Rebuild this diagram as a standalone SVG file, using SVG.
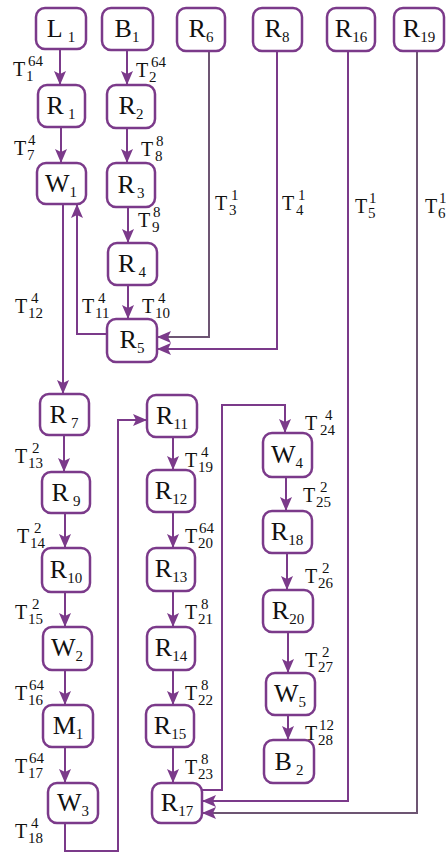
<svg xmlns="http://www.w3.org/2000/svg" width="446" height="856" viewBox="0 0 446 856">
<style>
.box{fill:#fff;stroke:#7b3a8a;stroke-width:2.5}
.c{fill:none;stroke:#7b3a8a;stroke-width:2}
.g{stroke:#6d5573}
.n{font-family:"Liberation Serif","Times New Roman",Times,serif;font-size:26px;fill:#111;text-anchor:middle}
.s{font-size:15px}
.t{font-family:"Liberation Serif","Times New Roman",Times,serif;font-size:20px;fill:#111}
.d{font-size:15px}
</style>
<defs>
<marker id="a" markerUnits="userSpaceOnUse" markerWidth="15" markerHeight="12" refX="14" refY="6" orient="auto">
<path d="M0,0 L14,6 L0,12 L3,6 z" fill="#7b3a8a"/>
</marker>
</defs>
<rect width="446" height="856" fill="#fff"/>
<g id="connectors">
<path class="c" d="M60,49 V85" marker-end="url(#a)"/>
<path class="c" d="M127,50 V85" marker-end="url(#a)"/>
<path class="c" d="M61,127 V163" marker-end="url(#a)"/>
<path class="c" d="M127,128 V163" marker-end="url(#a)"/>
<path class="c" d="M128,207 V243" marker-end="url(#a)"/>
<path class="c" d="M128,285 V319" marker-end="url(#a)"/>
<path class="c" d="M107,334 H77 V204" marker-end="url(#a)"/>
<path class="c" d="M63,204 V394" marker-end="url(#a)"/>
<path class="c g" d="M209,51 V337 H157" marker-end="url(#a)"/>
<path class="c" d="M277,51 V349 H157" marker-end="url(#a)"/>
<path class="c" d="M64,435 V472" marker-end="url(#a)"/>
<path class="c" d="M65,513 V548" marker-end="url(#a)"/>
<path class="c" d="M65,592 V627" marker-end="url(#a)"/>
<path class="c" d="M65,670 V705" marker-end="url(#a)"/>
<path class="c" d="M65,747 V783" marker-end="url(#a)"/>
<path class="c" d="M65,823 V851 H118 V420 H147" marker-end="url(#a)"/>
<path class="c" d="M173,437 V470" marker-end="url(#a)"/>
<path class="c" d="M173,512 V548" marker-end="url(#a)"/>
<path class="c" d="M173,591 V627" marker-end="url(#a)"/>
<path class="c" d="M173,670 V705" marker-end="url(#a)"/>
<path class="c" d="M173,747 V783" marker-end="url(#a)"/>
<path class="c" d="M202,790 H222 V405 H285 V433" marker-end="url(#a)"/>
<path class="c" d="M286,477 V511" marker-end="url(#a)"/>
<path class="c" d="M287,553 V590" marker-end="url(#a)"/>
<path class="c" d="M288,632 V673" marker-end="url(#a)"/>
<path class="c" d="M288,715 V740" marker-end="url(#a)"/>
<path class="c" d="M348,51 V801 H202" marker-end="url(#a)"/>
<path class="c g" d="M417,51 V813 H202" marker-end="url(#a)"/>
</g>
<g id="L1"><rect class="box" x="36" y="8" width="50" height="41" rx="9"/><text class="n" x="61" y="37">L<tspan class="s" dx="5" dy="5">1</tspan></text></g>
<g id="B1"><rect class="box" x="102" y="8" width="51" height="42" rx="9"/><text class="n" x="127" y="37">B<tspan class="s" dy="5">1</tspan></text></g>
<g id="R6"><rect class="box" x="177" y="8" width="48" height="43" rx="9"/><text class="n" x="201" y="37">R<tspan class="s" dy="5">6</tspan></text></g>
<g id="R8"><rect class="box" x="253" y="8" width="49" height="43" rx="9"/><text class="n" x="277" y="37">R<tspan class="s" dy="5">8</tspan></text></g>
<g id="R16"><rect class="box" x="327" y="8" width="48" height="43" rx="9"/><text class="n" x="351" y="37">R<tspan class="s" dy="5">16</tspan></text></g>
<g id="R19"><rect class="box" x="394" y="8" width="50" height="43" rx="9"/><text class="n" x="419" y="37">R<tspan class="s" dy="5">19</tspan></text></g>
<g id="R1"><rect class="box" x="38" y="85" width="47" height="42" rx="9"/><text class="n" x="61" y="114">R<tspan class="s" dx="4" dy="5">1</tspan></text></g>
<g id="R2"><rect class="box" x="107" y="85" width="48" height="43" rx="9"/><text class="n" x="131" y="114">R<tspan class="s" dy="5">2</tspan></text></g>
<g id="W1"><rect class="box" x="37" y="163" width="49" height="41" rx="9"/><text class="n" x="61" y="192">W<tspan class="s" dy="5">1</tspan></text></g>
<g id="R3"><rect class="box" x="107" y="163" width="48" height="44" rx="9"/><text class="n" x="131" y="193">R<tspan class="s" dx="2" dy="5">3</tspan></text></g>
<g id="R4"><rect class="box" x="108" y="243" width="49" height="42" rx="9"/><text class="n" x="132" y="272">R<tspan class="s" dx="3" dy="5">4</tspan></text></g>
<g id="R5"><rect class="box" x="107" y="319" width="50" height="43" rx="9"/><text class="n" x="132" y="348">R<tspan class="s" dy="5">5</tspan></text></g>
<g id="R7"><rect class="box" x="40" y="394" width="49" height="41" rx="9"/><text class="n" x="64" y="423">R<tspan class="s" dx="4" dy="5">7</tspan></text></g>
<g id="R9"><rect class="box" x="42" y="472" width="48" height="41" rx="9"/><text class="n" x="66" y="501">R<tspan class="s" dx="4" dy="5">9</tspan></text></g>
<g id="R10"><rect class="box" x="42" y="548" width="48" height="44" rx="9"/><text class="n" x="66" y="578">R<tspan class="s" dy="5">10</tspan></text></g>
<g id="W2"><rect class="box" x="43" y="627" width="49" height="43" rx="9"/><text class="n" x="67" y="656">W<tspan class="s" dy="5">2</tspan></text></g>
<g id="M1"><rect class="box" x="43" y="705" width="50" height="42" rx="9"/><text class="n" x="68" y="734">M<tspan class="s" dy="5">1</tspan></text></g>
<g id="W3"><rect class="box" x="48" y="783" width="50" height="40" rx="9"/><text class="n" x="73" y="811">W<tspan class="s" dy="5">3</tspan></text></g>
<g id="R11"><rect class="box" x="147" y="395" width="50" height="42" rx="9"/><text class="n" x="172" y="424">R<tspan class="s" dy="5">11</tspan></text></g>
<g id="R12"><rect class="box" x="147" y="470" width="48" height="42" rx="9"/><text class="n" x="171" y="499">R<tspan class="s" dy="5">12</tspan></text></g>
<g id="R13"><rect class="box" x="147" y="548" width="48" height="43" rx="9"/><text class="n" x="171" y="577">R<tspan class="s" dy="5">13</tspan></text></g>
<g id="R14"><rect class="box" x="147" y="627" width="48" height="43" rx="9"/><text class="n" x="171" y="656">R<tspan class="s" dy="5">14</tspan></text></g>
<g id="R15"><rect class="box" x="146" y="705" width="48" height="42" rx="9"/><text class="n" x="170" y="734">R<tspan class="s" dy="5">15</tspan></text></g>
<g id="R17"><rect class="box" x="152" y="783" width="50" height="40" rx="9"/><text class="n" x="177" y="811">R<tspan class="s" dy="5">17</tspan></text></g>
<g id="W4"><rect class="box" x="263" y="433" width="49" height="44" rx="9"/><text class="n" x="287" y="463">W<tspan class="s" dy="5">4</tspan></text></g>
<g id="R18"><rect class="box" x="263" y="511" width="49" height="42" rx="9"/><text class="n" x="287" y="540">R<tspan class="s" dy="5">18</tspan></text></g>
<g id="R20"><rect class="box" x="263" y="590" width="50" height="42" rx="9"/><text class="n" x="288" y="619">R<tspan class="s" dy="5">20</tspan></text></g>
<g id="W5"><rect class="box" x="266" y="673" width="49" height="42" rx="9"/><text class="n" x="290" y="702">W<tspan class="s" dy="5">5</tspan></text></g>
<g id="B2"><rect class="box" x="264" y="740" width="50" height="43" rx="9"/><text class="n" x="289" y="770">B<tspan class="s" dx="4" dy="5">2</tspan></text></g>
<g id="labels">
<text class="t" x="13" y="76">T<tspan class="d" x="28" dy="-10">64</tspan><tspan class="d" x="26" dy="15">1</tspan></text>
<text class="t" x="136" y="77">T<tspan class="d" x="151" dy="-10">64</tspan><tspan class="d" x="149" dy="15">2</tspan></text>
<text class="t" x="14" y="155">T<tspan class="d" x="28" dy="-10">4</tspan><tspan class="d" x="27" dy="15">7</tspan></text>
<text class="t" x="141" y="156">T<tspan class="d" x="156" dy="-10">8</tspan><tspan class="d" x="155" dy="15">8</tspan></text>
<text class="t" x="138" y="227">T<tspan class="d" x="153" dy="-10">8</tspan><tspan class="d" x="152" dy="15">9</tspan></text>
<text class="t" x="215" y="210">T<tspan class="d" x="231" dy="-10">1</tspan><tspan class="d" x="229" dy="15">3</tspan></text>
<text class="t" x="282" y="210">T<tspan class="d" x="298" dy="-10">1</tspan><tspan class="d" x="296" dy="15">4</tspan></text>
<text class="t" x="355" y="213">T<tspan class="d" x="369" dy="-10">1</tspan><tspan class="d" x="368" dy="15">5</tspan></text>
<text class="t" x="425" y="213">T<tspan class="d" x="439" dy="-10">1</tspan><tspan class="d" x="438" dy="15">6</tspan></text>
<text class="t" x="15" y="313">T<tspan class="d" x="31" dy="-10">4</tspan><tspan class="d" x="28" dy="15">12</tspan></text>
<text class="t" x="82" y="313">T<tspan class="d" x="98" dy="-10">4</tspan><tspan class="d" x="95" dy="15">11</tspan></text>
<text class="t" x="142" y="313">T<tspan class="d" x="158" dy="-10">4</tspan><tspan class="d" x="155" dy="15">10</tspan></text>
<text class="t" x="15" y="463">T<tspan class="d" x="32" dy="-10">2</tspan><tspan class="d" x="28" dy="15">13</tspan></text>
<text class="t" x="17" y="543">T<tspan class="d" x="34" dy="-10">2</tspan><tspan class="d" x="30" dy="15">14</tspan></text>
<text class="t" x="15" y="619">T<tspan class="d" x="32" dy="-10">2</tspan><tspan class="d" x="28" dy="15">15</tspan></text>
<text class="t" x="15" y="700">T<tspan class="d" x="29" dy="-10">64</tspan><tspan class="d" x="28" dy="15">16</tspan></text>
<text class="t" x="15" y="773">T<tspan class="d" x="29" dy="-10">64</tspan><tspan class="d" x="28" dy="15">17</tspan></text>
<text class="t" x="15" y="838">T<tspan class="d" x="31" dy="-10">4</tspan><tspan class="d" x="28" dy="15">18</tspan></text>
<text class="t" x="185" y="467">T<tspan class="d" x="201" dy="-10">4</tspan><tspan class="d" x="198" dy="15">19</tspan></text>
<text class="t" x="185" y="543">T<tspan class="d" x="199" dy="-10">64</tspan><tspan class="d" x="198" dy="15">20</tspan></text>
<text class="t" x="185" y="619">T<tspan class="d" x="201" dy="-10">8</tspan><tspan class="d" x="198" dy="15">21</tspan></text>
<text class="t" x="185" y="700">T<tspan class="d" x="201" dy="-10">8</tspan><tspan class="d" x="198" dy="15">22</tspan></text>
<text class="t" x="185" y="774">T<tspan class="d" x="201" dy="-10">8</tspan><tspan class="d" x="198" dy="15">23</tspan></text>
<text class="t" x="305" y="430">T<tspan class="d" x="325" dy="-10">4</tspan><tspan class="d" x="320" dy="15">24</tspan></text>
<text class="t" x="303" y="502">T<tspan class="d" x="320" dy="-10">2</tspan><tspan class="d" x="316" dy="15">25</tspan></text>
<text class="t" x="305" y="583">T<tspan class="d" x="322" dy="-10">2</tspan><tspan class="d" x="318" dy="15">26</tspan></text>
<text class="t" x="305" y="667">T<tspan class="d" x="322" dy="-10">2</tspan><tspan class="d" x="318" dy="15">27</tspan></text>
<text class="t" x="305" y="740">T<tspan class="d" x="319" dy="-10">12</tspan><tspan class="d" x="318" dy="15">28</tspan></text>
</g>
</svg>
